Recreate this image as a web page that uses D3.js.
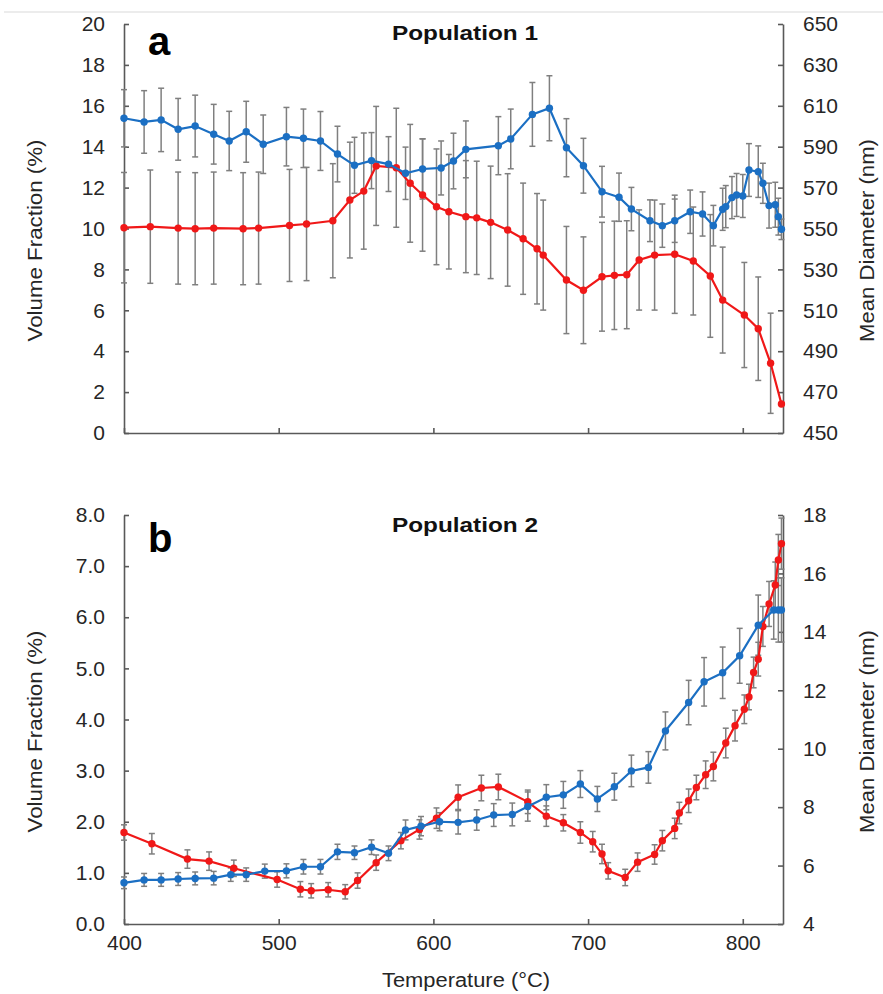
<!DOCTYPE html>
<html>
<head>
<meta charset="utf-8">
<script src="https://cdnjs.cloudflare.com/ajax/libs/d3/7.8.5/d3.min.js"></script>
<style>
  body { margin: 0; background: #fff; }
  text { font-family: "Liberation Sans", Arial, sans-serif; fill: #262626; }
  .axis path, .axis line { stroke: #595959; stroke-width: 1.6; }
  .axis text { font-size: 21px; fill: #262626; }
</style>
</head>
<body>
<svg id="chart" width="883" height="994"></svg>
<script>
// Population 1 (panel a)
const t1Vol = [400,417,435,446,458,477,487,507,518,535,546,555,563,576,585,593,602,610,621,628,637,648,658,667,671,686,697,709,717,725,733,743,756,768,779,787,801,810,818,825];
const vol1 = [10.04,10.09,10.02,9.99,10.02,9.99,10.02,10.15,10.22,10.38,11.39,11.83,13.06,12.97,12.21,11.64,11.06,10.82,10.58,10.52,10.30,9.93,9.50,9.01,8.70,7.48,6.98,7.64,7.71,7.74,8.46,8.70,8.74,8.41,7.68,6.50,5.77,5.10,3.41,1.42];
const vol1Err = [2.7,2.77,2.74,2.74,2.74,2.74,2.74,2.74,2.77,2.79,2.83,2.84,2.91,2.91,2.88,2.75,2.83,2.80,2.74,2.77,2.75,2.75,2.72,2.70,2.69,2.62,2.61,2.66,2.65,2.64,2.45,2.69,2.89,2.64,3.0,2.59,2.57,2.53,2.45,0];

const t1Dia = [400,413,424,435,446,458,468,479,490,505,516,527,538,549,560,571,582,593,605,613,621,642,650,664,675,686,697,709,720,728,740,748,756,766,774,781,787,789,793,796,800,804,810,813,817,821,823,825];
const dia1 = [603.9,602.1,603.1,598.5,600.1,596.1,592.8,597.3,591.2,594.9,594.1,592.8,586.4,580.9,583.2,581.5,577.0,579.1,579.6,583.0,588.7,590.5,593.8,605.8,608.8,589.5,580.7,568.0,565.3,559.5,553.8,551.4,553.8,558.2,557.1,551.4,559.4,560.7,565.1,566.4,565.9,578.6,577.8,572.1,561.2,561.6,555.8,549.6];
const dia1Err = [14,15.3,15.5,15.1,15.1,14.6,14.5,14.9,14.3,14.3,14.3,14.4,13.6,13.7,13.7,13.4,12.8,14.7,13.2,13.6,13.9,14.2,14.6,15.6,15.9,14.2,13.4,12.4,11.8,10.6,10.2,10.6,10.6,10.6,10.8,9.9,10.3,10.3,10.3,10.5,10.5,12.9,12.6,9.8,11,11,9,5];

// Population 2 (panel b)
const t2Vol = [400,418,441,455,471,499,514,521,532,543,551,563,579,591,602,616,631,642,661,673,684,695,703,709,713,724,732,743,748,756,759,765,770,776,781,789,795,801,804,807,810,813,817,821,823,825];
const vol2 = [1.79,1.57,1.27,1.23,1.09,0.87,0.68,0.65,0.67,0.63,0.85,1.20,1.63,1.85,2.07,2.48,2.66,2.68,2.39,2.11,1.98,1.79,1.61,1.37,1.04,0.91,1.21,1.36,1.63,1.87,2.17,2.41,2.67,2.92,3.08,3.54,3.88,4.20,4.44,4.92,5.18,5.82,6.26,6.63,7.12,7.44];
const vol2Err = [0.15,0.2,0.18,0.18,0.16,0.15,0.15,0.14,0.14,0.14,0.15,0.15,0.16,0.19,0.2,0.24,0.25,0.25,0.23,0.2,0.16,0.21,0.2,0.19,0.16,0.16,0.18,0.19,0.2,0.2,0.21,0.23,0.24,0.27,0.28,0.29,0.3,0.28,0.25,0.3,0.33,0.39,0.44,0.45,0.5,0.5];

const t2Dia = [400,413,424,435,446,458,469,479,491,505,516,527,538,549,560,571,582,592,604,616,628,639,651,661,673,684,695,706,717,728,739,750,765,775,787,798,810,820,823,825];
const dia2 = [5.41,5.51,5.51,5.54,5.56,5.57,5.69,5.69,5.81,5.82,5.96,5.96,6.47,6.44,6.63,6.42,7.22,7.35,7.50,7.48,7.56,7.73,7.75,8.02,8.34,8.42,8.79,8.28,8.70,9.24,9.36,10.61,11.58,12.29,12.60,13.18,14.23,14.75,14.75,14.75];
const dia2Err = [0.2,0.22,0.22,0.22,0.22,0.23,0.23,0.23,0.24,0.24,0.25,0.25,0.26,0.23,0.25,0.25,0.34,0.33,0.31,0.4,0.35,0.39,0.39,0.5,0.43,0.46,0.46,0.43,0.46,0.54,0.54,0.65,0.76,0.83,0.88,0.94,1.03,1.0,1.1,1.1];

const tempTicks = [400, 500, 600, 700, 800];
const volTicks1 = [0,2,4,6,8,10,12,14,16,18,20];
const diaTicks1 = [450,470,490,510,530,550,570,590,610,630,650];
const volTicks2 = [0,1,2,3,4,5,6,7,8];
const diaTicks2 = [4,6,8,10,12,14,16,18];

const RED = "#f01818", BLUE = "#1b6fc3", ERR = "#7f7f7f";

const svg = d3.select("#chart");

// thin separator at the very top
svg.append("line").attr("x1", 4).attr("x2", 883).attr("y1", 12).attr("y2", 12)
  .attr("stroke", "#d9d9d9").attr("stroke-width", 1.2);

const x = d3.scaleLinear().domain([400, 826]).range([124, 783]);

function drawPanel(p) {
  const yL = d3.scaleLinear().domain(p.volDomain).range([p.bottom, p.top]);
  const yR = d3.scaleLinear().domain(p.diaDomain).range([p.bottom, p.top]);
  const g = svg.append("g");

  // axes
  g.append("g").attr("class", "axis")
    .attr("transform", "translate(0," + p.bottom + ")")
    .call(d3.axisBottom(x).tickValues(tempTicks).tickSizeInner(-5).tickSizeOuter(0).tickPadding(11)
      .tickFormat(p.showX ? d3.format("d") : () => ""));
  g.append("g").attr("class", "axis")
    .attr("transform", "translate(124,0)")
    .call(d3.axisLeft(yL).tickValues(p.volTicks).tickSizeInner(-5).tickSizeOuter(0).tickPadding(19)
      .tickFormat(d3.format(p.volFmt)));
  g.append("g").attr("class", "axis")
    .attr("transform", "translate(783,0)")
    .call(d3.axisRight(yR).tickValues(p.diaTicks).tickSizeInner(-5).tickSizeOuter(0).tickPadding(20)
      .tickFormat(d3.format("d")));

  const series = [
    {t: p.tVol, v: p.vol, e: p.volErr, y: yL, c: RED},
    {t: p.tDia, v: p.dia, e: p.diaErr, y: yR, c: BLUE}
  ];

  // error bars behind the lines
  series.forEach(s => {
    const eg = g.append("g").attr("stroke", ERR).attr("stroke-width", 1.5);
    s.t.forEach((t, i) => {
      if (!s.e[i]) return;
      const cx = x(t), y1 = s.y(s.v[i] - s.e[i]), y2 = s.y(s.v[i] + s.e[i]);
      eg.append("line").attr("x1", cx).attr("x2", cx).attr("y1", y1).attr("y2", y2);
      eg.append("line").attr("x1", cx - 3).attr("x2", cx + 3).attr("y1", y1).attr("y2", y1);
      eg.append("line").attr("x1", cx - 3).attr("x2", cx + 3).attr("y1", y2).attr("y2", y2);
    });
  });

  series.forEach(s => {
    const pts = s.t.map((t, i) => [t, s.v[i]]);
    g.append("path").datum(pts)
      .attr("fill", "none").attr("stroke", s.c).attr("stroke-width", 2.2)
      .attr("d", d3.line().x(d => x(d[0])).y(d => s.y(d[1])));
    g.selectAll(null).data(pts).enter().append("circle")
      .attr("cx", d => x(d[0])).attr("cy", d => s.y(d[1])).attr("r", 3.7)
      .attr("fill", s.c);
  });

  // titles
  g.append("text").attr("x", 148).attr("y", p.top + p.letterDy)
    .style("font-size", "40px").style("font-weight", "bold").style("fill", "#000").text(p.letter);
  g.append("text").attr("x", 465).attr("y", p.top + p.titleDy).attr("text-anchor", "middle")
    .attr("textLength", 146).attr("lengthAdjust", "spacingAndGlyphs")
    .style("font-size", "21px").style("font-weight", "bold").style("fill", "#111").text(p.title);
  const mid = (p.top + p.bottom) / 2 + 12;
  g.append("text").attr("transform", "translate(42," + mid + ") rotate(-90)")
    .attr("text-anchor", "middle").attr("textLength", 202).attr("lengthAdjust", "spacingAndGlyphs")
    .style("font-size", "20px").text("Volume Fraction (%)");
  g.append("text").attr("transform", "translate(874," + mid + ") rotate(-90)")
    .attr("text-anchor", "middle").attr("textLength", 203).attr("lengthAdjust", "spacingAndGlyphs")
    .style("font-size", "20px").text("Mean Diameter (nm)");
}

drawPanel({
  top: 24, bottom: 433, volDomain: [0, 20], diaDomain: [450, 650],
  volTicks: volTicks1, diaTicks: diaTicks1, volFmt: "d", showX: false,
  tVol: t1Vol, vol: vol1, volErr: vol1Err, tDia: t1Dia, dia: dia1, diaErr: dia1Err,
  letter: "a", letterDy: 31, title: "Population 1", titleDy: 16
});
drawPanel({
  top: 515, bottom: 924, volDomain: [0, 8], diaDomain: [4, 18],
  volTicks: volTicks2, diaTicks: diaTicks2, volFmt: ".1f", showX: true,
  tVol: t2Vol, vol: vol2, volErr: vol2Err, tDia: t2Dia, dia: dia2, diaErr: dia2Err,
  letter: "b", letterDy: 37, title: "Population 2", titleDy: 17
});

svg.append("text").attr("x", 466).attr("y", 987).attr("text-anchor", "middle")
  .attr("textLength", 168).attr("lengthAdjust", "spacingAndGlyphs")
  .style("font-size", "20px").text("Temperature (°C)");
</script>
</body>
</html>
